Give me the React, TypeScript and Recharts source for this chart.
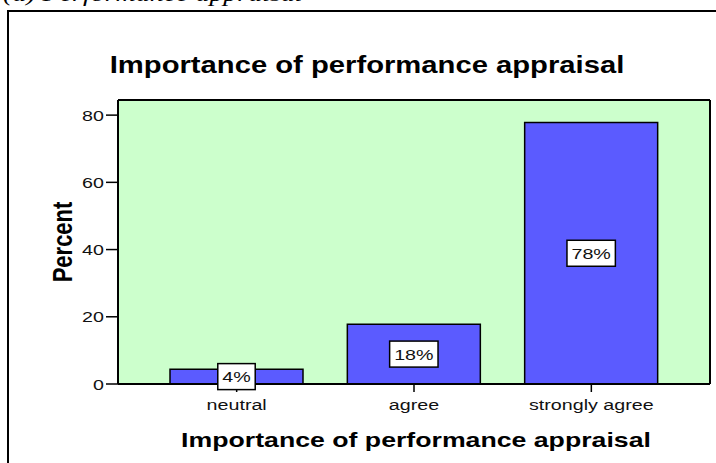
import { BarChart, Bar, XAxis, YAxis, LabelList, CartesianGrid } from 'recharts'

const categories = ['neutral', 'agree', 'strongly agree']
const percents = [4.4, 17.8, 77.8]
const barLabels = ['4%', '18%', '78%']
const yTicks = [0, 20, 40, 60, 80]
const yMax = 84.5

const chartTitle = 'Importance of performance appraisal'
const xTitle = 'Importance of performance appraisal'
const yTitle = 'Percent'
const caption = '(a) Performance appraisal'

const data = categories.map((category, i) => ({
  category,
  percent: percents[i],
  label: barLabels[i],
}))

const FONT = '"Liberation Sans", Arial, sans-serif'
// the source picture is stretched sideways, so all text gets the same stretch
const STRETCH = 1.27
const frameLine = { stroke: '#000', strokeWidth: 2 }

function XTick({ x, y, payload }: any) {
  return (
    <text
      transform={`translate(${x},${y + 18}) scale(${STRETCH},1)`}
      textAnchor="middle"
      fontFamily={FONT}
      fontSize={15.5}
      fill="#111"
    >
      {payload.value}
    </text>
  )
}

function YTick({ x, y, payload }: any) {
  return (
    <text
      transform={`translate(${x},${y + 5.5}) scale(${STRETCH},1)`}
      textAnchor="end"
      fontFamily={FONT}
      fontSize={15.5}
      fill="#111"
    >
      {payload.value}
    </text>
  )
}

function textWidth(s: string, size: number) {
  let em = 0
  for (const ch of s) em += ch === '%' ? 0.889 : 0.556
  return em * size * STRETCH
}

function BoxLabel({ x, y, width, height, value }: any) {
  const cx = x + width / 2
  const cy = y + height / 2
  const w = textWidth(String(value), 15.5) + 9
  const h = 26
  return (
    <g>
      <rect x={cx - w / 2} y={cy - h / 2} width={w} height={h} fill="#fff" stroke="#000" strokeWidth={1.5} />
      <text
        transform={`translate(${cx},${cy + 5.5}) scale(${STRETCH},1)`}
        textAnchor="middle"
        fontFamily={FONT}
        fontSize={15.5}
        fill="#111"
      >
        {value}
      </text>
    </g>
  )
}

function XTitle({ viewBox }: any) {
  const cx = viewBox.x + viewBox.width / 2 + 2
  return (
    <text
      transform={`translate(${cx},${viewBox.y + 63}) scale(${STRETCH},1)`}
      textAnchor="middle"
      fontFamily={FONT}
      fontWeight="bold"
      fontSize={21}
      fill="#000"
    >
      {xTitle}
    </text>
  )
}

function YTitle({ viewBox }: any) {
  const cy = viewBox.y + viewBox.height / 2
  return (
    <text
      transform={`translate(62,${cy}) scale(${STRETCH},1) rotate(-90)`}
      textAnchor="middle"
      dominantBaseline="central"
      fontFamily={FONT}
      fontWeight="bold"
      fontSize={22}
      fill="#000"
    >
      {yTitle}
    </text>
  )
}

export default function App() {
  return (
    <div
      style={{
        position: 'absolute',
        left: 0,
        top: 0,
        width: 716,
        height: 463,
        overflow: 'hidden',
        background: '#fff',
      }}
    >
      <BarChart
        width={716}
        height={463}
        data={data}
        margin={{ top: 99, right: 5, bottom: 0, left: 0 }}
      >
        <CartesianGrid fill="#CCFFCC" fillOpacity={1} horizontal={false} vertical={false} />
        <XAxis
          dataKey="category"
          height={79}
          padding={{ left: 30, right: 30 }}
          tickSize={8}
          tickMargin={0}
          tick={<XTick />}
          axisLine={frameLine}
          tickLine={{ stroke: '#000', strokeWidth: 1.5 }}
          label={<XTitle />}
        />
        <XAxis
          xAxisId="top"
          dataKey="category"
          orientation="top"
          height={1}
          tick={false}
          tickLine={false}
          axisLine={frameLine}
        />
        <YAxis
          width={118}
          domain={[0, yMax]}
          ticks={yTicks}
          tickSize={12}
          tickMargin={2}
          tick={<YTick />}
          axisLine={frameLine}
          tickLine={{ stroke: '#000', strokeWidth: 1.5 }}
          label={<YTitle />}
        />
        <YAxis
          yAxisId="right"
          orientation="right"
          width={1}
          domain={[0, yMax]}
          tick={false}
          tickLine={false}
          axisLine={frameLine}
        />
        <Bar
          dataKey="percent"
          barSize={133}
          fill="#5B5BFF"
          stroke="#000"
          strokeWidth={1.5}
          isAnimationActive={false}
        >
          <LabelList dataKey="label" content={<BoxLabel />} />
        </Bar>
      </BarChart>

      <div
        style={{
          position: 'absolute',
          left: 0,
          top: 52,
          width: 734,
          textAlign: 'center',
          fontFamily: FONT,
          fontWeight: 'bold',
          fontSize: 23,
          lineHeight: '26px',
          transform: `scaleX(${STRETCH})`,
          transformOrigin: '367px 0',
          whiteSpace: 'nowrap',
        }}
      >
        {chartTitle}
      </div>
      <div
        style={{
          position: 'absolute',
          left: 3,
          top: -17,
          fontFamily: '"Liberation Serif", "Times New Roman", serif',
          fontStyle: 'italic',
          fontSize: 22,
          lineHeight: '22px',
          transform: `scaleX(${STRETCH})`,
          transformOrigin: '0 0',
          whiteSpace: 'nowrap',
        }}
      >
        {caption}
      </div>
      <div
        style={{
          position: 'absolute',
          left: 7,
          top: 10,
          right: -4,
          bottom: -4,
          borderLeft: '2px solid #000',
          borderTop: '2px solid #000',
          pointerEvents: 'none',
        }}
      />
    </div>
  )
}
